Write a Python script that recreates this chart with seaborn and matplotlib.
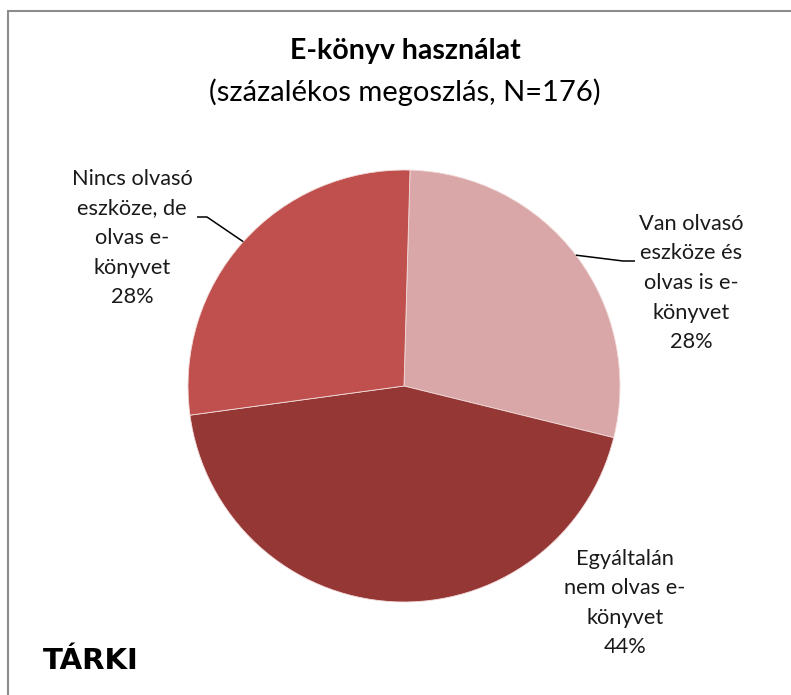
import matplotlib

matplotlib.use("Agg")
import matplotlib.pyplot as plt
import seaborn as sns
import numpy as np
from matplotlib.patches import Rectangle

# data
categories = [
    "Van olvasó\neszköze és\nolvas is e-\nkönyvet",
    "Egyáltalán\nnem olvas e-\nkönyvet",
    "Nincs olvasó\neszköze, de\nolvas e-\nkönyvet",
]
shares = [28.4, 44.0, 27.6]
colors = ["#D9A7A7", "#953735", "#C0504D"]

title = "E-könyv használat"
subtitle = "(százalékos megoszlás, N=176)"
source = "TÁRKI"

W, H = 791, 695


def Y(y_img):
    # image pixel row -> data y (y axis points up)
    return H - y_img


sns.set_theme(style="white")
plt.rcParams["font.family"] = ["Lato", "DejaVu Sans"]

fig = plt.figure(figsize=(W / 100, H / 100), dpi=100)
ax = fig.add_axes([0, 0, 1, 1])

cx, cy, r = 404, Y(386), 216
wedges, _ = ax.pie(
    shares,
    colors=colors,
    startangle=88.4,
    counterclock=False,
    center=(cx, cy),
    radius=r,
    wedgeprops=dict(edgecolor="#f2dcdb", linewidth=0.6),
)
ax.set_xlim(0, W)
ax.set_ylim(0, H)
ax.set_aspect("equal")
ax.axis("off")

# label blocks: (center x, center y) in image pixels, leader elbow or None
label_pos = [(691, 283), (625, 603), (132, 238)]
elbows = [((623, 261), (635, 261)), None, ((207, 217), (197, 217))]

for w, cat, val, (lx, ly), elbow in zip(wedges, categories, shares, label_pos, elbows):
    ax.text(lx, Y(ly), f"{cat}\n{round(val)}%", ha="center", va="center",
            fontsize=15.7, color="#1a1a1a", linespacing=1.6)
    if elbow is not None:
        mid = np.deg2rad((w.theta1 + w.theta2) / 2)
        sx, sy = cx + r * np.cos(mid), cy + r * np.sin(mid)
        (ex, ey), (fx, fy) = elbow
        ax.plot([sx, ex, fx], [sy, Y(ey), Y(fy)], color="black", lw=1.1,
                solid_capstyle="butt")

ax.text(405, Y(51), title, ha="center", va="center", fontsize=20.5,
        fontweight="bold", color="black")
ax.text(405, Y(92), subtitle, ha="center", va="center", fontsize=21,
        color="black")
ax.text(43, Y(661), source, ha="left", va="center", fontsize=21,
        fontweight="heavy", family=["DejaVu Sans"], color="black")

# chart-area frame, cut off at the right and bottom like the source
fig.patches.append(Rectangle((8 / W, -0.1), 1.2, 1.1 - 11 / H,
                             transform=fig.transFigure, fill=False,
                             edgecolor="#8c8c8c", linewidth=1.5))

plt.savefig("out.png", dpi=100)
plt.close()
